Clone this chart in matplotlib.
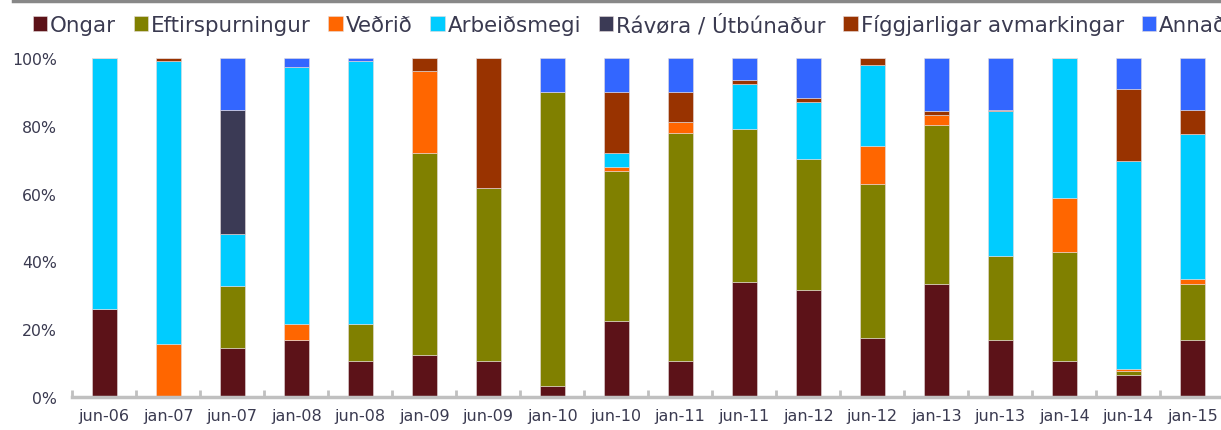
import numpy as np
import matplotlib
matplotlib.use('Agg')
import matplotlib.pyplot as plt
from matplotlib.lines import Line2D

# hlutfall (%) fyri hvønn bólk
periods = ['jun-06', 'jan-07', 'jun-07', 'jan-08', 'jun-08', 'jan-09', 'jun-09', 'jan-10', 'jun-10',
           'jan-11', 'jun-11', 'jan-12', 'jun-12', 'jan-13', 'jun-13', 'jan-14', 'jun-14', 'jan-15']
ongar = [26.0, 0, 14.5, 16.8, 10.6, 12.4, 10.6, 3.2, 22.4, 10.6, 33.9, 31.6, 17.4, 33.3, 16.8, 10.6, 6.5, 16.8]
eftirspurningur = [0, 0, 18.2, 0, 10.8, 59.5, 51.0, 86.8, 44.3, 67.4, 45.2, 38.6, 45.3, 47.0, 24.9, 32.3, 1.2, 16.5]
vedrid = [0, 15.7, 0, 4.6, 0, 24.4, 0, 0, 1.2, 3.0, 0, 0, 11.4, 2.9, 0, 15.9, 0.6, 1.6]
arbeidsmegi = [74.0, 83.4, 15.3, 75.9, 77.7, 0, 0, 0, 4.0, 0, 13.2, 16.9, 23.8, 0, 42.7, 41.2, 61.2, 42.6]
ravora = [0, 0, 36.8, 0, 0, 0, 0, 0, 0, 0, 0, 0, 0, 0, 0, 0, 0, 0]
figgjar = [0, 0.9, 0, 0, 0, 3.7, 38.4, 0, 18.1, 9.0, 1.1, 1.1, 2.1, 1.2, 0.4, 0, 21.5, 7.3]
annad = [0, 0, 15.2, 2.7, 0.9, 0, 0, 10.0, 10.0, 10.0, 6.6, 11.8, 0, 15.6, 15.2, 0, 9.0, 15.2]

names = ['Ongar', 'Eftirspurningur', 'Veðrið', 'Arbeiðsmegi', 'Rávøra / Útbúnaður',
         'Fíggjarligar avmarkingar', 'Annað']
series = [ongar, eftirspurningur, vedrid, arbeidsmegi, ravora, figgjar, annad]
colors = ['#5c1218', '#808000', '#ff6600', '#00ccff', '#3b3a55', '#993300', '#3366ff']

txt = '#3a3a50'
plt.rcParams['font.family'] = ['DejaVu Sans']

fig = plt.figure(figsize=(12.21, 4.31), dpi=100)
ax = fig.add_axes([72.2 / 1221, 33 / 431, 1152 / 1221, 339 / 431])

x = np.arange(len(periods))
bottom = np.zeros(len(periods))
handles = []
for name, vals, c in zip(names, series, colors):
    v = np.array(vals) / 100.0
    b = ax.bar(x, v, 0.39, bottom=bottom, color=c, edgecolor='#e6dcdc', linewidth=0.4, label=name)
    handles.append(b)
    bottom += v

ax.set_xlim(-0.5, len(periods) - 0.5)
ax.set_ylim(0, 1)
ax.set_yticks(np.arange(0, 1.01, 0.2))
ax.set_yticklabels([f'{int(round(t * 100))}%' for t in np.arange(0, 1.01, 0.2)])
ax.tick_params(axis='y', length=0, pad=11, labelsize=11.3, labelcolor=txt)

ax.set_xticks(x)
ax.set_xticklabels(periods)
ax.set_xticks(np.arange(-0.5, len(periods), 1), minor=True)
ax.tick_params(axis='x', which='major', length=0, pad=8, labelsize=11.5, labelcolor=txt)
ax.tick_params(axis='x', which='minor', direction='in', length=5, width=2, color='#c0c0c0')

for s in ['top', 'right', 'left']:
    ax.spines[s].set_visible(False)
ax.spines['bottom'].set_color('#c0c0c0')
ax.spines['bottom'].set_linewidth(2.5)

# legend as in the source: the last item runs off the right edge
leg = fig.legend(handles=handles, loc='upper left', bbox_to_anchor=(24 / 1221, 1 - 6 / 431), ncol=7,
                 frameon=False, fontsize=15.4, handlelength=0.68, handleheight=0.68,
                 handletextpad=0.13, columnspacing=0.83, borderaxespad=0)
for t in leg.get_texts():
    t.set_color(txt)

fig.add_artist(Line2D([13 / 1221, 1], [1 - 1.5 / 431, 1 - 1.5 / 431], color='#888888', linewidth=2.5))

fig.savefig('out.png', dpi=100)
